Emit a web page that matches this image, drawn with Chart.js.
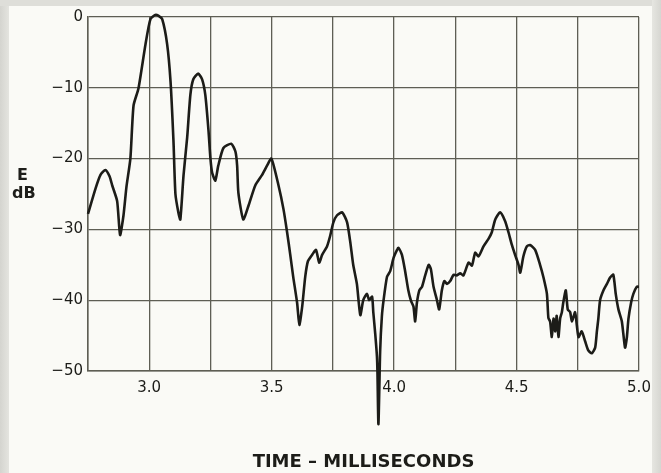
<!DOCTYPE html>
<html>
<head>
<meta charset="utf-8">
<script src="https://cdn.jsdelivr.net/npm/chart.js@4/dist/chart.umd.min.js"></script>
<style>
  html, body { margin: 0; padding: 0; }
  body { width: 661px; height: 473px; position: relative; overflow: hidden; background: #fafaf6; }
  #frameL { position: absolute; left: 0; top: 0; width: 9px; height: 473px; background: linear-gradient(to right, #d4d4cf, #e4e4df); }
  #frameT { position: absolute; left: 0; top: 0; width: 661px; height: 6px; background: #deded9; }
  #frameR { position: absolute; left: 652px; top: 0; width: 9px; height: 473px; background: linear-gradient(to right, #e6e6e1, #d6d6d1); }
  #wrap { position: absolute; left: 0; top: 0; width: 661px; height: 473px; }
  .ylab { position: absolute; font-family: "DejaVu Sans", sans-serif; font-weight: bold; font-size: 16px; color: #1e1e1a; line-height: 17px; }
</style>
</head>
<body>
<div id="frameL"></div><div id="frameT"></div><div id="frameR"></div>
<div id="wrap"><canvas id="c" width="661" height="473"></canvas></div>
<div class="ylab" style="left:17px; top:166px;">E</div>
<div class="ylab" style="left:12px; top:184px;">dB</div>
<script>
// time in milliseconds
const timeMs = [
  2.750, 2.781, 2.801, 2.821, 2.838, 2.849, 2.869, 2.881, 2.895, 2.907,
  2.923, 2.936, 2.956, 2.985, 3.005, 3.025, 3.037, 3.053, 3.073, 3.087,
  3.099, 3.107, 3.119, 3.127, 3.140, 3.155, 3.168, 3.180, 3.200, 3.216,
  3.229, 3.242, 3.250, 3.257, 3.270, 3.282, 3.303, 3.335, 3.352, 3.359,
  3.364, 3.384, 3.405, 3.433, 3.461, 3.481, 3.499, 3.528, 3.548, 3.563,
  3.576, 3.588, 3.604, 3.613, 3.625, 3.637, 3.648, 3.665, 3.681, 3.694,
  3.706, 3.726, 3.739, 3.752, 3.767, 3.788, 3.808, 3.821, 3.833, 3.848,
  3.862, 3.874, 3.889, 3.898, 3.910, 3.915, 3.923, 3.930, 3.932, 3.936,
  3.943, 3.950, 3.957, 3.971, 3.984, 3.998, 4.012, 4.018, 4.032, 4.045,
  4.058, 4.069, 4.079, 4.086, 4.093, 4.103, 4.114, 4.127, 4.141, 4.150,
  4.161, 4.175, 4.184, 4.195, 4.205, 4.216, 4.229, 4.243, 4.256, 4.270,
  4.283, 4.304, 4.318, 4.331, 4.345, 4.365, 4.386, 4.399, 4.413, 4.433,
  4.453, 4.467, 4.481, 4.494, 4.508, 4.515, 4.528, 4.542, 4.555, 4.576,
  4.596, 4.610, 4.624, 4.630, 4.637, 4.644, 4.651, 4.658, 4.664, 4.671,
  4.678, 4.685, 4.691, 4.701, 4.709, 4.719, 4.726, 4.739, 4.746, 4.753,
  4.766, 4.780, 4.793, 4.807, 4.821, 4.828, 4.834, 4.841, 4.855, 4.869,
  4.882, 4.895, 4.905, 4.916, 4.930, 4.943, 4.950, 4.957, 4.968, 4.977,
  4.991, 5.000
];
// level E in dB
const levelDb = [
  -27.8, -24.2, -22.3, -21.6, -22.5, -23.8, -26.0, -30.8, -28.0, -24.0,
  -20.0, -12.5, -10.1, -3.8, -0.3, 0.3, 0.2, -0.3, -3.8, -9.1,
  -17.5, -25.0, -27.6, -28.6, -22.4, -17.0, -11.0, -8.8, -8.0, -8.8,
  -11.0, -16.0, -20.0, -22.0, -23.1, -21.0, -18.5, -17.9, -19.0, -21.0,
  -24.8, -28.6, -26.7, -23.8, -22.3, -21.0, -20.0, -23.8, -27.1, -30.4,
  -33.6, -36.7, -40.4, -43.5, -40.8, -36.7, -34.5, -33.6, -32.9, -34.7,
  -33.6, -32.4, -30.9, -29.0, -28.0, -27.6, -29.0, -31.8, -35.0, -37.7,
  -42.1, -40.0, -39.1, -40.0, -39.5, -41.7, -44.8, -48.0, -50.2, -57.5,
  -47.2, -42.3, -40.0, -36.7, -35.9, -34.0, -32.9, -32.6, -33.6, -35.9,
  -38.6, -40.1, -40.9, -43.0, -40.4, -38.6, -38.1, -36.5, -35.0, -35.6,
  -38.1, -40.0, -41.3, -38.6, -37.3, -37.7, -37.3, -36.4, -36.5, -36.2,
  -36.5, -34.7, -35.1, -33.3, -33.8, -32.4, -31.3, -30.4, -28.6, -27.6,
  -28.8, -30.4, -32.2, -33.6, -35.0, -36.1, -33.8, -32.4, -32.2, -32.9,
  -35.0, -36.8, -39.1, -42.5, -43.0, -45.2, -42.6, -44.4, -42.2, -45.2,
  -42.6, -41.7, -40.3, -38.6, -41.3, -41.7, -43.0, -41.7, -43.5, -45.2,
  -44.4, -45.8, -47.1, -47.5, -46.7, -44.4, -42.6, -40.0, -38.6, -37.7,
  -36.8, -36.4, -39.1, -41.3, -43.0, -46.7, -45.4, -42.6, -40.3, -39.1,
  -38.1, -38.1
];
const xTickValues = [3.0, 3.5, 4.0, 4.5, 5.0];
const xTickLabels = ['3.0', '3.5', '4.0', '4.5', '5.0'];
const yTickValues = [0, -10, -20, -30, -40, -50];
const yTickLabels = ['0', '\u221210', '\u221220', '\u221230', '\u221240', '\u221250'];
const xTitle = 'TIME \u2013 MILLISECONDS';

const gridColor = '#5e5e54';
const inkColor = '#1c1c18';

const points = timeMs.map((t, i) => ({ x: t, y: levelDb[i] }));

new Chart(document.getElementById('c'), {
  type: 'line',
  data: {
    datasets: [{
      data: points,
      borderColor: inkColor,
      borderWidth: 2.6,
      pointRadius: 0,
      tension: 0.2,
      fill: false,
      clip: false
    }]
  },
  options: {
    responsive: false,
    animation: false,
    devicePixelRatio: 1,
    layout: { padding: { left: 0, top: 17, right: 22, bottom: 0 } },
    plugins: { legend: { display: false }, tooltip: { enabled: false } },
    scales: {
      x: {
        type: 'linear',
        min: 2.75, max: 5.0,
        afterFit: (s) => { s.height = 102; },
        afterBuildTicks: (s) => {
          const t = [];
          for (let v = 2.75; v <= 5.0001; v += 0.25) t.push({ value: Math.round(v * 100) / 100 });
          s.ticks = t;
        },
        ticks: {
          autoSkip: false,
          maxRotation: 0,
          padding: 8,
          color: inkColor,
          font: { family: 'DejaVu Sans', size: 15 },
          callback: (v) => {
            const i = xTickValues.findIndex(a => Math.abs(a - v) < 1e-6);
            return i >= 0 ? xTickLabels[i] : '';
          }
        },
        grid: { color: gridColor, lineWidth: 1.3, drawTicks: false },
        border: { color: gridColor, width: 1.5 },
        title: {
          display: true,
          text: xTitle,
          color: inkColor,
          font: { family: 'DejaVu Sans', size: 18, weight: 'bold' },
          padding: { top: 0, bottom: 0 }
        }
      },
      y: {
        type: 'linear',
        min: -50, max: 0,
        afterFit: (s) => { s.width = 88; },
        afterBuildTicks: (s) => { s.ticks = yTickValues.map(v => ({ value: v })); },
        ticks: {
          padding: 5,
          color: inkColor,
          font: { family: 'DejaVu Sans', size: 15 },
          callback: (v) => {
            const i = yTickValues.indexOf(v);
            return i >= 0 ? yTickLabels[i] : '';
          }
        },
        grid: { color: gridColor, lineWidth: 1.3, drawTicks: false },
        border: { color: gridColor, width: 1.5 }
      }
    }
  }
});
</script>
</body>
</html>
